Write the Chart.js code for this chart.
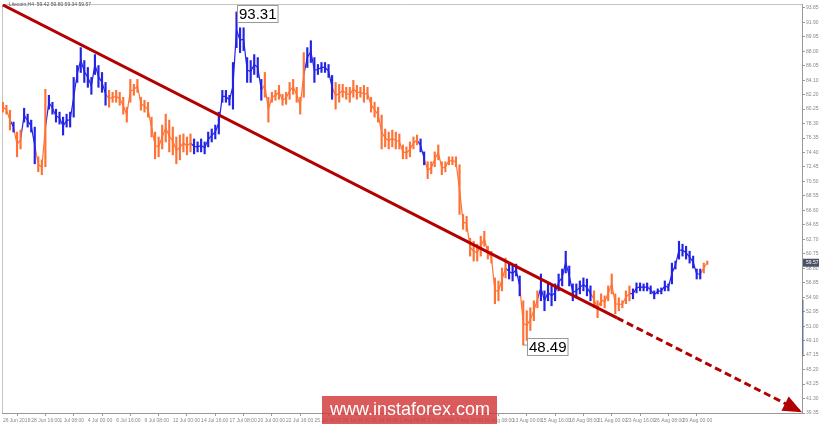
<!DOCTYPE html>
<html>
<head>
<meta charset="utf-8">
<script src="https://cdn.jsdelivr.net/npm/chart.js@4.4.0/dist/chart.umd.min.js"></script>
<style>
html, body { margin: 0; padding: 0; background: #fff; }
#wrap { position: relative; width: 820px; height: 426px; }
</style>
</head>
<body>
<div id="wrap"><canvas id="chart" width="820" height="426"></canvas></div>
<script>
// time axis labels, one every 16 H4 bars
const dateLabels = [
    "26 Jun 2018", "28 Jun 16:00", "1 Jul 08:00", "4 Jul 00:00", "6 Jul 16:00",
    "9 Jul 08:00", "12 Jul 00:00", "14 Jul 16:00", "17 Jul 08:00", "20 Jul 00:00",
    "22 Jul 16:00", "25 Jul 08:00", "28 Jul 00:00", "30 Jul 16:00", "2 Aug 08:00",
    "5 Aug 00:00", "7 Aug 16:00", "10 Aug 08:00", "13 Aug 00:00", "15 Aug 16:00",
    "18 Aug 08:00", "21 Aug 00:00", "23 Aug 16:00", "26 Aug 08:00", "29 Aug 00:00"
];

// price scale on the right
const priceTicks = [
    93.85, 91.90, 89.95, 88.00, 86.05, 84.10, 82.20, 80.25, 78.30, 76.35,
    74.40, 72.45, 70.50, 68.55, 66.60, 64.65, 62.70, 60.75, 58.80, 56.85,
    54.90, 52.95, 51.00, 49.10, 47.15, 45.20, 43.25, 41.30, 39.35
];

// one entry every 2 bars (H4): high, low, swing direction
const highs = [
    81.16, 80.76, 80.09, 78.49, 77.15, 77.42, 80.36, 79.56, 78.76, 77.82,
    73.82, 73.41, 82.90, 82.10, 81.16, 80.23, 79.83, 79.16, 79.56, 79.83,
    84.50, 86.10, 88.51, 86.77, 85.84, 84.50, 87.57, 86.10, 85.17, 83.83,
    82.76, 82.50, 82.76, 82.50, 81.83, 80.49, 84.23, 83.57, 84.23, 81.83,
    81.43, 81.16, 79.16, 77.15, 76.49, 78.09, 79.56, 78.76, 77.82, 76.49,
    76.75, 76.89, 76.49, 76.89, 76.22, 75.82, 76.22, 75.82, 77.15, 77.56,
    78.09, 79.83, 82.76, 82.76, 82.10, 86.51, 93.31, 91.18, 91.18, 87.17,
    86.77, 87.57, 87.17, 84.23, 85.17, 81.83, 82.50, 82.76, 83.43, 82.23,
    82.50, 83.83, 84.23, 83.17, 81.83, 87.84, 88.51, 89.44, 87.17, 86.24,
    86.51, 86.51, 86.24, 84.77, 83.83, 83.57, 83.57, 83.17, 83.17, 84.10,
    83.43, 83.17, 83.43, 83.17, 81.83, 81.16, 80.49, 79.43, 77.56, 77.15,
    77.42, 77.15, 76.89, 75.42, 75.15, 75.82, 76.49, 76.75, 76.22, 74.48,
    73.15, 73.15, 74.48, 75.42, 73.15, 73.15, 73.82, 73.82, 73.82, 72.75,
    66.07, 65.80, 62.86, 62.46, 62.06, 63.13, 63.80, 61.79, 61.12, 57.52,
    57.12, 58.85, 60.19, 59.39, 59.12, 59.39, 57.79, 54.45, 53.11, 53.51,
    54.45, 55.78, 58.05, 55.78, 56.72, 56.45, 56.72, 58.05, 58.72, 61.12,
    59.12, 56.72, 56.72, 57.12, 57.52, 57.38, 56.45, 55.78, 54.45, 55.38,
    55.11, 56.45, 58.05, 55.38, 54.85, 54.45, 55.78, 56.45, 56.05, 56.85,
    56.85, 56.72, 56.85, 56.45, 55.78, 56.05, 56.18, 57.12, 56.72, 59.52,
    59.79, 62.46, 62.06, 61.79, 61.12, 60.46, 58.72, 58.72, 59.52, 59.80
];
const lows = [
    79.83, 79.56, 77.42, 77.15, 73.82, 74.88, 78.49, 77.82, 77.15, 72.88,
    71.81, 71.41, 72.48, 80.23, 79.56, 78.49, 78.22, 76.75, 77.82, 77.82,
    79.16, 83.83, 85.17, 83.83, 83.17, 82.23, 84.90, 83.17, 82.50, 80.76,
    80.49, 81.16, 81.16, 80.76, 79.56, 78.49, 81.16, 82.10, 82.50, 80.09,
    79.83, 79.16, 76.49, 73.55, 73.82, 74.88, 75.82, 74.48, 74.08, 72.88,
    73.41, 74.48, 74.08, 74.48, 74.22, 74.48, 74.48, 74.22, 75.15, 75.82,
    76.22, 76.89, 81.16, 81.16, 80.76, 80.23, 88.51, 87.84, 88.11, 83.83,
    83.83, 84.90, 84.50, 81.43, 81.83, 78.49, 81.16, 81.43, 81.56, 80.76,
    80.89, 81.56, 82.23, 81.16, 79.56, 81.83, 85.84, 86.51, 83.83, 84.90,
    85.17, 85.17, 84.50, 81.56, 80.23, 81.16, 81.83, 81.56, 81.16, 81.83,
    81.56, 81.83, 81.16, 81.56, 79.83, 79.16, 78.49, 74.88, 75.15, 74.88,
    75.15, 74.88, 74.88, 73.55, 73.55, 73.82, 74.88, 75.42, 74.48, 72.75,
    70.88, 71.54, 72.48, 73.41, 71.41, 71.81, 72.75, 72.75, 72.48, 66.07,
    64.06, 63.80, 60.46, 59.79, 59.79, 60.46, 61.79, 60.06, 59.52, 54.05,
    54.45, 55.78, 57.52, 57.38, 57.12, 57.79, 55.11, 48.49, 49.10, 50.44,
    51.77, 53.51, 54.45, 53.11, 54.45, 53.78, 54.45, 55.78, 56.45, 58.19,
    56.45, 54.45, 54.85, 55.38, 55.78, 55.11, 54.45, 53.51, 52.18, 53.78,
    53.51, 54.45, 55.38, 52.71, 53.11, 53.51, 54.05, 54.45, 54.71, 55.51,
    55.78, 55.78, 55.78, 55.38, 54.71, 55.38, 55.38, 55.78, 55.78, 56.72,
    58.72, 60.06, 60.46, 60.06, 59.52, 58.85, 57.38, 57.38, 58.19, 59.34
];
const swing = (
    "ddd" + "u" + "dd" + "uuuu" + "ddd" + "uuuuuuuuuuuuuuuuu" +
    "dddddddddddddddddddddddd" + "uuuuuuuuuuuuuuuuuuuu" + "dddddddddddd" +
    "uuuuuuuu" + "dddddddddddddddddddddddd" + "uu" +
    "ddddddddddddddddddddddd" + "uuuu" + "ddddd" +
    "uuuuuuuuuuuuuuu" + "ddddddddddd" + "uuuuuuuuuuuuuuuuuuuu" + "dd"
).split("");

const peakMark = { bar: 132, value: 93.31 };
const lowMark = { bar: 294, value: 48.49 };
const lastQuote = [59.42, 59.80, 59.34, 59.57];
const symbolName = "Litecoin,H4";

// trend line (bar index, price)
const trendSolid = [{ x: 0, y: 94.25 }, { x: 347, y: 52.15 }];
const trendDashed = [{ x: 347, y: 52.15 }, { x: 450, y: 39.65 }];

const UP = "#2323e6";
const DOWN = "#ff7236";
const TREND = "#b30000";

const barData = highs.map((h, i) => ({ x: i * 2, y: [lows[i], h] }));
const midData = highs.map((h, i) => ({ x: i * 2, y: (h + lows[i]) / 2 }));
const barColors = swing.map(s => (s === "u" ? UP : DOWN));

const extras = {
    id: "extras",
    beforeDraw(chart) {
        const { ctx, chartArea: a } = chart;
        ctx.save();
        ctx.strokeStyle = "#c4c4c4";
        ctx.lineWidth = 1;
        ctx.beginPath();
        ctx.moveTo(a.left + 0.5, a.bottom);
        ctx.lineTo(a.left + 0.5, a.top + 0.5);
        ctx.lineTo(a.right, a.top + 0.5);
        ctx.stroke();
        ctx.fillStyle = "#555";
        ctx.font = "5px 'Liberation Sans'";
        ctx.textBaseline = "middle";
        ctx.fillText(symbolName + "  " + lastQuote.map(v => v.toFixed(2)).join(" "), 9, 5);
        ctx.restore();
    },
    afterDatasetsDraw(chart) {
        const { ctx, scales: { x, y } } = chart;
        ctx.save();
        // arrow head at end of dashed part
        const p0 = trendDashed[0], p1 = trendDashed[1];
        const x0 = x.getPixelForValue(p0.x), y0 = y.getPixelForValue(p0.y);
        const x1 = x.getPixelForValue(p1.x), y1 = y.getPixelForValue(p1.y);
        const ang = Math.atan2(y1 - y0, x1 - x0);
        const len = 16, half = 8;
        const bx = x1 - Math.cos(ang) * len, by = y1 - Math.sin(ang) * len;
        ctx.fillStyle = TREND;
        ctx.beginPath();
        ctx.moveTo(x1 + Math.cos(ang) * 3, y1 + Math.sin(ang) * 3);
        ctx.lineTo(bx - Math.sin(ang) * half, by + Math.cos(ang) * half);
        ctx.lineTo(bx + Math.sin(ang) * half, by - Math.cos(ang) * half);
        ctx.closePath();
        ctx.fill();

        // price labels at the extremes
        const tag = (m, dx, dy) => {
            const px = x.getPixelForValue(m.bar), py = y.getPixelForValue(m.value);
            ctx.font = "15px 'Liberation Sans', Arial";
            const txt = m.value.toFixed(2);
            const w = ctx.measureText(txt).width + 3;
            const bxl = Math.round(px + dx) + 0.5, byt = Math.round(py + dy) + 0.5;
            ctx.strokeStyle = "#999";
            ctx.lineWidth = 1;
            ctx.beginPath();
            ctx.moveTo(px, py);
            ctx.lineTo(bxl, py);
            ctx.stroke();
            ctx.fillStyle = "#fff";
            ctx.fillRect(bxl, byt, w, 17);
            ctx.strokeRect(bxl, byt, w, 17);
            ctx.fillStyle = "#000";
            ctx.textBaseline = "middle";
            ctx.textAlign = "left";
            ctx.fillText(txt, bxl + 1.5, byt + 9);
        };
        tag(peakMark, 0, -7);
        tag(lowMark, 4, -7);
        ctx.restore();
    },
    afterDraw(chart) {
        const { ctx, chartArea: a, scales: { y } } = chart;
        ctx.save();
        // scroll marker on the price axis
        ctx.fillStyle = "#6c7891";
        const t = y.getPixelForValue(54.6), b = y.getPixelForValue(47.0);
        ctx.fillRect(a.right, t, 1.5, b - t);
        // current price box
        const cy = y.getPixelForValue(lastQuote[3]);
        ctx.fillStyle = "#4a5266";
        ctx.fillRect(a.right + 1, cy - 4, 16, 8);
        ctx.fillStyle = "#fff";
        ctx.font = "5px 'Liberation Sans'";
        ctx.textBaseline = "middle";
        ctx.fillText(lastQuote[3].toFixed(2), a.right + 4, cy);
        // watermark
        ctx.fillStyle = "rgba(210, 55, 55, 0.82)";
        ctx.fillRect(322, 396, 175, 28);
        ctx.fillStyle = "#fff";
        ctx.font = "18px 'Liberation Sans', Arial";
        ctx.textAlign = "center";
        ctx.fillText("www.instaforex.com", 410, 410.5);
        ctx.restore();
    }
};

const tickFont = { family: "Liberation Sans Narrow, Liberation Sans", size: 5 };

new Chart(document.getElementById("chart"), {
    type: "bar",
    data: {
        datasets: [
            {
                type: "line",
                data: trendSolid,
                borderColor: TREND,
                borderWidth: 3,
                pointRadius: 0,
                order: 0
            },
            {
                type: "line",
                data: trendDashed,
                borderColor: TREND,
                borderWidth: 3,
                borderDash: [7, 4],
                pointRadius: 0,
                order: 0
            },
            {
                type: "line",
                data: midData,
                borderWidth: 1.2,
                pointRadius: 0,
                segment: { borderColor: c => barColors[c.p1DataIndex] },
                order: 2
            },
            {
                data: barData,
                backgroundColor: barColors,
                barThickness: 1.5,
                grouped: false,
                order: 1
            }
        ]
    },
    options: {
        responsive: false,
        animation: false,
        layout: { padding: { left: 2, top: 1, right: 0, bottom: 0 } },
        plugins: { legend: { display: false }, tooltip: { enabled: false } },
        scales: {
            x: {
                type: "linear",
                min: -0.5,
                max: 451.5,
                offset: false,
                afterBuildTicks: s => { s.ticks = dateLabels.map((_, i) => ({ value: i * 16 })); },
                afterFit: s => { s.height = 13; },
                grid: { drawOnChartArea: false, tickLength: 3, color: "#999" },
                border: { color: "#999" },
                ticks: {
                    align: "start",
                    maxRotation: 0,
                    autoSkip: false,
                    padding: 2,
                    color: "#888",
                    font: tickFont,
                    callback: (v) => dateLabels[Math.round(v / 16)] || ""
                }
            },
            y: {
                position: "right",
                min: 39.35,
                max: 94.38,
                afterBuildTicks: s => { s.ticks = priceTicks.map(v => ({ value: v })); },
                afterFit: s => { s.width = 18; },
                grid: { drawOnChartArea: false, tickLength: 3, color: "#999" },
                border: { color: "#999" },
                ticks: {
                    padding: 1,
                    color: "#888",
                    font: tickFont,
                    callback: v => Number(v).toFixed(2)
                }
            }
        }
    },
    plugins: [extras]
});
</script>
</body>
</html>
